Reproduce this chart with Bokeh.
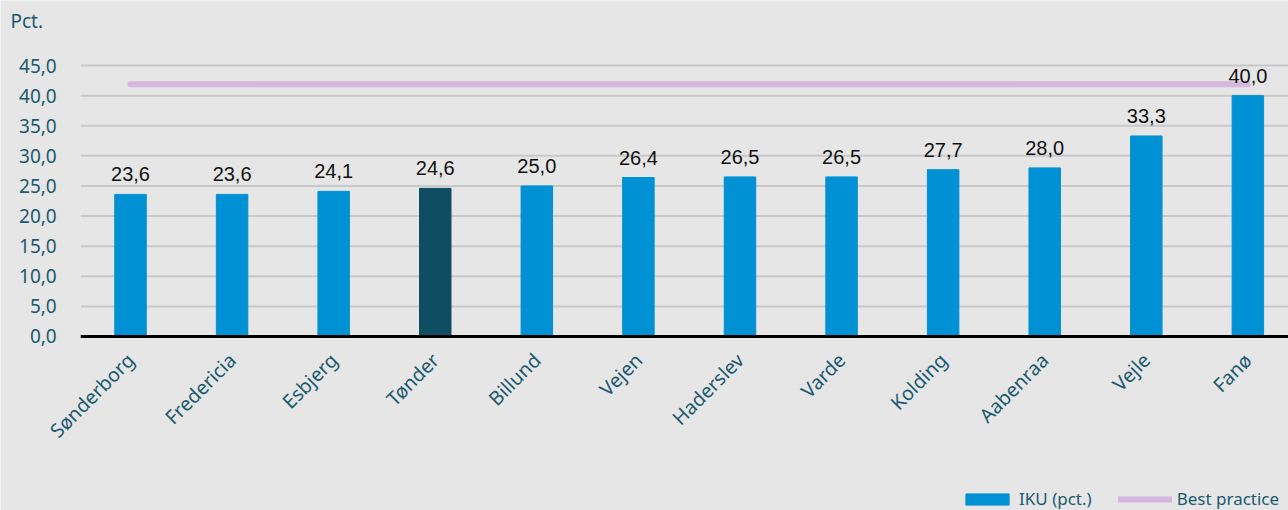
import math
from bokeh.plotting import figure
from bokeh.models import ColumnDataSource, Range1d, FixedTicker, Legend, LegendItem, LabelSet, Label
from bokeh.core.properties import value
from bokeh.embed import file_html
from bokeh.resources import INLINE

categories = ["Sønderborg", "Fredericia", "Esbjerg", "Tønder", "Billund", "Vejen",
              "Haderslev", "Varde", "Kolding", "Aabenraa", "Vejle", "Fanø"]
iku_values = [23.6, 23.6, 24.1, 24.6, 25.0, 26.4, 26.5, 26.5, 27.7, 28.0, 33.3, 40.0]
best_practice = 41.9
highlight = "Tønder"
y_ticks = [0, 5, 10, 15, 20, 25, 30, 35, 40, 45]
unit_label = "Pct."

BLUE = "#0091d5"
DARK = "#0f4d63"
TEAL = "#1b5a70"
BG = "#e6e6e6"

# layout constants (data units): left edge of the plotting area where the y axis sits
AXIS_X = -0.49
X_START, X_END = -1.28, 11.40
Y_START, Y_END = -28.9, 55.8

xs = list(range(len(categories)))
colors = [DARK if c == highlight else BLUE for c in categories]
labels = [f"{v:.1f}".replace(".", ",") for v in iku_values]
src = ColumnDataSource(dict(x=xs, top=iku_values, color=colors, label=labels))

p = figure(width=1288, height=510, output_backend="svg", toolbar_location=None,
           x_range=Range1d(X_START, X_END), y_range=Range1d(Y_START, Y_END),
           background_fill_color=BG, border_fill_color=BG,
           min_border_left=0, min_border_right=0, min_border_top=0, min_border_bottom=0)
p.outline_line_color = None

# horizontal grid lines starting at the y axis
grid_ticks = y_ticks[1:]
p.segment(x0=[AXIS_X] * len(grid_ticks), x1=[X_END] * len(grid_ticks),
          y0=grid_ticks, y1=grid_ticks, line_color="#c8c8c8", line_width=2)

r_bar = p.vbar(x="x", top="top", width=0.31, color="color", source=src)
r_line = p.line(x=[xs[0], xs[-1]], y=[best_practice, best_practice], line_color="#d4b8e0",
                line_width=6, line_cap="round")
# baseline (x axis line) from y axis to the right edge
p.segment(x0=[AXIS_X], x1=[X_END], y0=[0], y1=[0], line_color="black", line_width=3)

lbl = LabelSet(x="x", y="top", text="label", source=src, text_align="center",
               text_baseline="bottom", y_offset=13, text_font=value("Liberation Sans"),
               text_font_size="20px", text_color="#111111")
p.add_layout(lbl)

# unit label in the top-left corner
p.add_layout(Label(x=10, y=490, x_units="screen", y_units="screen", text=unit_label,
                   text_font="Noto Sans", text_font_size="19px", text_color=TEAL,
                   text_baseline="middle", text_align="left"))

# axes
p.yaxis.fixed_location = AXIS_X
p.yaxis.ticker = FixedTicker(ticks=y_ticks)
p.yaxis.major_label_overrides = {t: f"{t:.1f}".replace(".", ",") for t in y_ticks}
p.yaxis.axis_line_color = None
p.yaxis.major_tick_line_color = None
p.yaxis.minor_tick_line_color = None
p.yaxis.major_label_text_font = "Noto Sans"
p.yaxis.major_label_text_font_size = "19px"
p.yaxis.major_label_text_color = TEAL
p.yaxis.major_label_standoff = 18

p.xaxis.fixed_location = 0
p.xaxis.ticker = FixedTicker(ticks=xs)
p.xaxis.major_label_overrides = {i: c for i, c in enumerate(categories)}
p.xaxis.major_label_orientation = math.pi / 4
p.xaxis.axis_line_color = None
p.xaxis.major_tick_line_color = None
p.xaxis.minor_tick_line_color = None
p.xaxis.major_label_text_font = "Noto Sans"
p.xaxis.major_label_text_font_size = "19.5px"
p.xaxis.major_label_text_color = TEAL
p.xaxis.major_label_standoff = 14

p.xgrid.grid_line_color = None
p.ygrid.grid_line_color = None

legend = Legend(items=[LegendItem(label="IKU (pct.)", renderers=[r_bar]),
                       LegendItem(label="Best practice", renderers=[r_line])],
                orientation="horizontal", location=(960, 0),
                glyph_width=54, glyph_height=14, label_text_font="Noto Sans",
                label_text_font_size="17px", label_text_color=TEAL,
                background_fill_alpha=0, border_line_color=None, spacing=26,
                label_standoff=5, padding=0, margin=0)
p.add_layout(legend)

open("out.html", "w").write(file_html(p, INLINE))
